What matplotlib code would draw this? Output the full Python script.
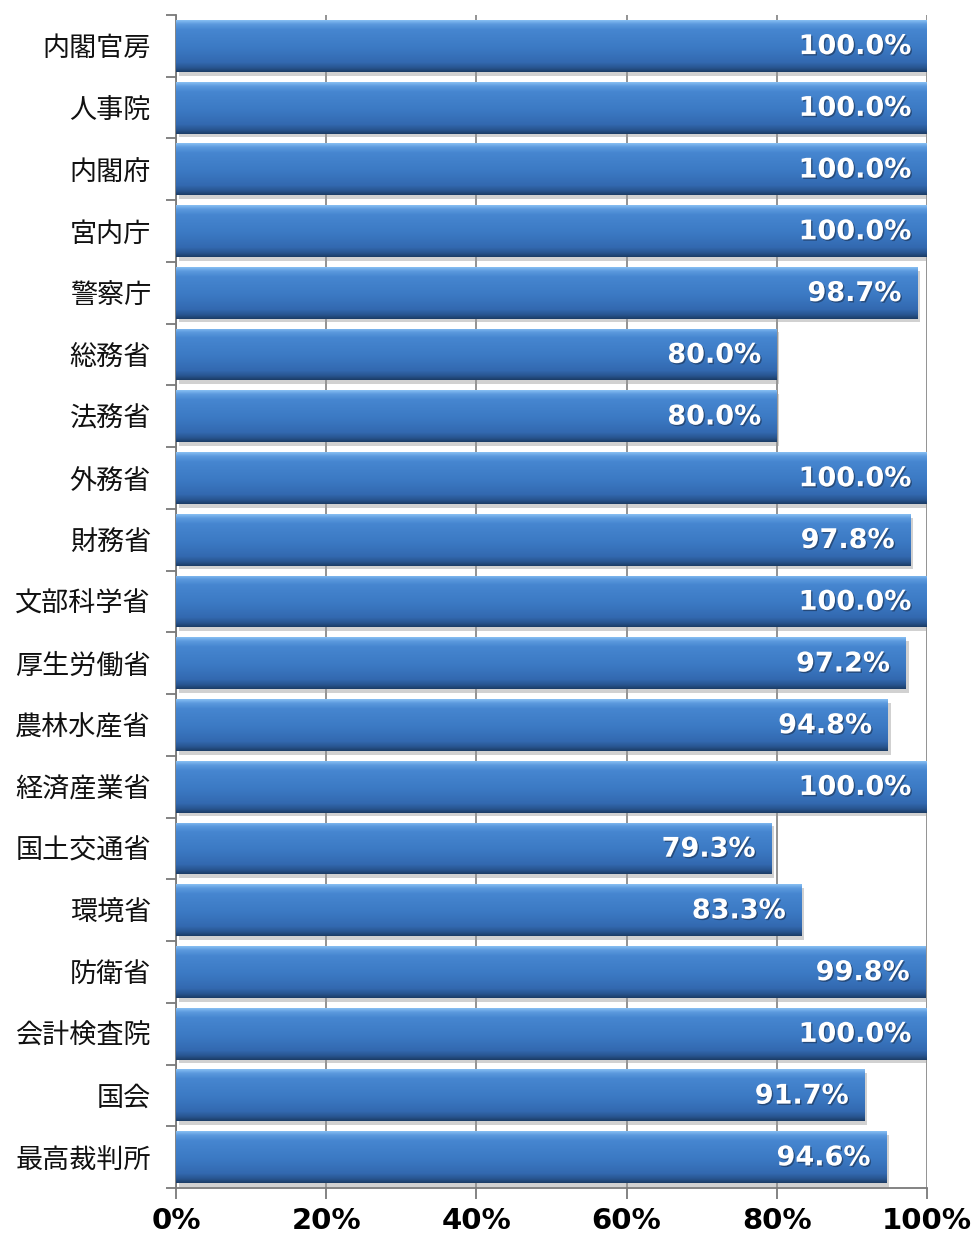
import numpy as np
import matplotlib
matplotlib.use("Agg")
import matplotlib.pyplot as plt
from matplotlib.colors import LinearSegmentedColormap
import matplotlib.patheffects as pe

categories = ["内閣官房", "人事院", "内閣府", "宮内庁", "警察庁", "総務省", "法務省", "外務省",
              "財務省", "文部科学省", "厚生労働省", "農林水産省", "経済産業省", "国土交通省",
              "環境省", "防衛省", "会計検査院", "国会", "最高裁判所"]
values = [100.0, 100.0, 100.0, 100.0, 98.7, 80.0, 80.0, 100.0, 97.8, 100.0, 97.2, 94.8,
          100.0, 79.3, 83.3, 99.8, 100.0, 91.7, 94.6]
xticks = [0, 20, 40, 60, 80, 100]
xticklabels = ["0%", "20%", "40%", "60%", "80%", "100%"]

plt.rcParams['font.family'] = ['Noto Sans CJK JP', 'DejaVu Sans']

fig = plt.figure(figsize=(9.73, 12.35), dpi=100)
ax = fig.add_axes([176/973, 1 - 1188/1235, (927-176)/973, (1188-15)/1235])

n = len(categories)
y = np.arange(n)
h = 0.84

cmap = LinearSegmentedColormap.from_list("bevel", [
    (0.00, "#86bdf2"), (0.07, "#5c9ade"), (0.18, "#4686d0"), (0.55, "#3b79c3"),
    (0.82, "#3369b0"), (0.93, "#28548e"), (1.00, "#1c3d68")])
grad = np.linspace(0, 1, 64).reshape(-1, 1)

# shadows
ax.barh(y + 0.06, values, height=h, left=0.35, color="#9a9a9a", alpha=0.45, zorder=2)
bars = ax.barh(y, values, height=h, color="#3b79c3", zorder=3)
for b, v, yi in zip(bars, values, y):
    im = ax.imshow(grad, cmap=cmap, aspect='auto', origin='upper',
                   extent=[0, v, yi + h/2, yi - h/2], zorder=3.5, interpolation='bilinear')
    im.set_clip_path(b)
    ax.text(v - 2.1, yi + 0.02, f"{v:.1f}%", ha='right', va='center', color='white',
            fontsize=19.5, fontweight='bold', family='DejaVu Sans', zorder=5,
            path_effects=[pe.withSimplePatchShadow(offset=(1, -1), shadow_rgbFace='#1a3050', alpha=0.6)])

ax.set_xlim(0, 100)
ax.set_ylim(n - 0.5, -0.5)

ax.set_xticks(xticks)
ax.set_xticklabels(xticklabels, fontsize=21, fontweight='bold', family='DejaVu Sans')
ax.set_yticks(y)
ax.set_yticklabels(categories, fontsize=19.5, color='#111111')
ax.tick_params(axis='y', length=0, pad=18)
ax.set_yticks(np.arange(-0.5, n, 1), minor=True)
ax.tick_params(axis='y', which='minor', length=7, width=1.3, color='#7a7a7a')
ax.tick_params(axis='x', length=8, width=1.3, color='#7a7a7a', pad=6)

ax.grid(axis='x', color='#8a8a8a', linewidth=1.3, zorder=1)
ax.set_axisbelow(True)
for s in ['top', 'right']:
    ax.spines[s].set_visible(False)
for s in ['left', 'bottom']:
    ax.spines[s].set_color('#7a7a7a')
    ax.spines[s].set_linewidth(1.3)

fig.savefig("out.png", dpi=100)
